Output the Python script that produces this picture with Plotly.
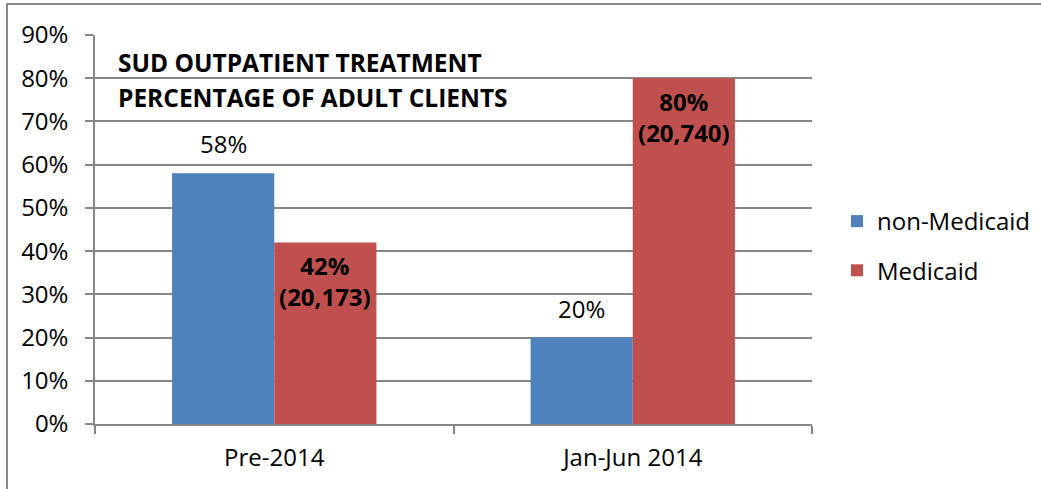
import plotly.graph_objects as go

categories = ["Pre-2014", "Jan-Jun 2014"]
non_medicaid = [0.58, 0.20]
medicaid = [0.42, 0.80]
medicaid_counts = ["20,173", "20,740"]
series_names = ["non-Medicaid", "Medicaid"]
title_lines = ["SUD OUTPATIENT TREATMENT", "PERCENTAGE OF ADULT CLIENTS"]

BLUE = "#4F81BD"
RED = "#C0504D"
GRAY = "#878787"
FONT = "Open Sans"
FS = 24

W, H = 1041, 489
L, R, T, B = 95, 229, 35, 65
pw, ph = W - L - R, H - T - B

def px_x(p):
    return (p - L) / pw

def px_y(p):
    return (H - B - p) / ph

bargap = 0.43
offset = (1 - bargap) / 4

fig = go.Figure()
fig.add_trace(go.Bar(x=categories, y=non_medicaid, name=series_names[0],
                     marker=dict(color=BLUE, line=dict(width=0)), legendgroup="a"))
fig.add_trace(go.Bar(x=categories, y=medicaid, name=series_names[1],
                     marker=dict(color=RED, line=dict(width=0)), legendgroup="b"))

annotations = []
for i, v in enumerate(non_medicaid):
    annotations.append(dict(x=i - offset, y=v, xref="x", yref="y", text=f"{round(v*100)}%",
                            showarrow=False, yanchor="bottom", yshift=11,
                            font=dict(family=FONT, size=FS, color="#000")))
for i, v in enumerate(medicaid):
    annotations.append(dict(x=i + offset, y=v, xref="x", yref="y",
                            text=f"<b>{round(v*100)}%</b><br><b>({medicaid_counts[i]})</b>",
                            showarrow=False, yanchor="top", yshift=-5,
                            font=dict(family=FONT, size=FS, color="#000")))
for k, py in enumerate([62, 97]):
    annotations.append(dict(x=px_x(116), y=px_y(py), xref="paper", yref="paper",
                            text=f"<b>{title_lines[k]}</b>", showarrow=False,
                            xanchor="left", yanchor="middle",
                            font=dict(family=FONT, size=24.5, color="#000")))

fig.update_layout(
    width=W, height=H,
    margin=dict(l=L, r=R, t=T, b=B, autoexpand=False),
    paper_bgcolor="white", plot_bgcolor="white",
    barmode="group", bargap=bargap, bargroupgap=0,
    font=dict(family=FONT, size=FS, color="#000"),
    annotations=annotations,
    legend=dict(xref="container", yref="container", x=837 / W, y=(H - 246) / H,
                xanchor="left", yanchor="middle",
                traceorder="grouped", tracegroupgap=15,
                font=dict(family=FONT, size=FS, color="#000"),
                itemwidth=30),
    shapes=[dict(type="rect", xref="paper", yref="paper",
                 x0=px_x(7), x1=px_x(1060), y0=px_y(500), y1=px_y(4),
                 line=dict(color=GRAY, width=2), layer="below")],
    xaxis=dict(showgrid=False, showline=True, linecolor=GRAY, linewidth=1.5,
               ticks="outside", tickson="boundaries", ticklen=8, tickcolor=GRAY,
               tickwidth=1.5, ticklabelstandoff=11,
               tickfont=dict(family=FONT, size=FS, color="#000")),
    yaxis=dict(range=[0, 0.9], dtick=0.1, tickformat=".0%",
               showgrid=True, gridcolor=GRAY, gridwidth=1.5,
               showline=True, linecolor=GRAY, linewidth=1.5,
               ticks="outside", ticklen=8, tickcolor=GRAY, tickwidth=1.5,
               ticklabelstandoff=12, zeroline=False,
               tickfont=dict(family=FONT, size=FS, color="#000")),
)

fig.write_html("out.html", config={"displayModeBar": False},
               post_script="document.body.style.margin='0px';document.body.style.overflow='hidden';")
